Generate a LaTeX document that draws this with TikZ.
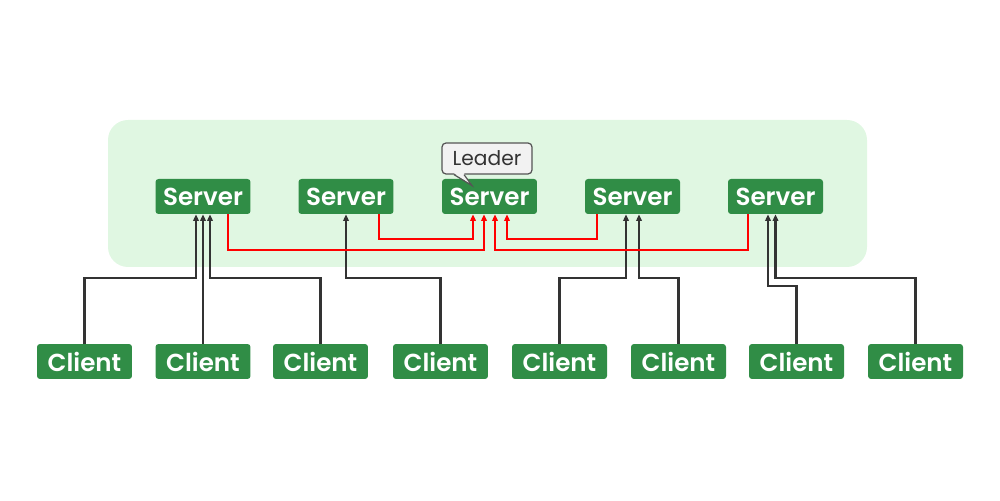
\documentclass[tikz,border=0pt]{standalone}
\usepackage{fontspec}
\setmainfont{Poppins}[BoldFont={Poppins SemiBold}]
\usetikzlibrary{arrows.meta}
\definecolor{gfg}{HTML}{308D46}
\definecolor{bggreen}{HTML}{E0F7E2}
\definecolor{dline}{HTML}{333333}
\definecolor{rline}{HTML}{FF0000}
\definecolor{lgray}{HTML}{F2F2F2}
\definecolor{lborder}{HTML}{555555}
\begin{document}
\begin{tikzpicture}[x=0.02cm,y=0.02cm,
  box/.style={rectangle, rounded corners=0.06cm, fill=gfg, text=white,
    minimum width=1.9cm, minimum height=0.7cm, inner sep=0pt,
    font=\fontsize{14pt}{15pt}\selectfont\bfseries},
  cl/.style={draw=dline, line width=1.3pt, -{Triangle[length=0.13cm,width=0.11cm]}},
  rl/.style={draw=rline, line width=1.3pt, -{Triangle[length=0.13cm,width=0.11cm]}},
  ldr/.style={draw=lborder, line width=0.7pt}]
\useasboundingbox (0,0) rectangle (1000,500);
\fill[bggreen, rounded corners=0.4cm] (108,233) rectangle (867,380);
% servers
\node[box] (s1) at (203,303.5) {Server};
\node[box] (s2) at (346,303.5) {Server};
\node[box] (s3) at (489.5,303.5) {Server};
\node[box] (s4) at (632.5,303.5) {Server};
\node[box] (s5) at (775.5,303.5) {Server};
% clients
\node[box] (c1) at (84.5,138.5) {Client};
\node[box] (c2) at (203,138.5) {Client};
\node[box] (c3) at (320.5,138.5) {Client};
\node[box] (c4) at (440.5,138.5) {Client};
\node[box] (c5) at (559.5,138.5) {Client};
\node[box] (c6) at (678.5,138.5) {Client};
\node[box] (c7) at (796.5,138.5) {Client};
\node[box] (c8) at (915.5,138.5) {Client};
% leader callout
\node[ldr, fill=lgray, rounded corners=0.08cm, minimum width=1.8cm, minimum height=0.62cm,
  inner sep=0pt, font=\fontsize{11.5pt}{12pt}\selectfont, text=dline] (ld) at (487,341.5) {Leader};
\fill[lgray] ([xshift=-0.66cm,yshift=0.03cm]ld.south) -- ([xshift=-0.3cm,yshift=-0.22cm]ld.south)
  -- ([xshift=-0.46cm,yshift=0.03cm]ld.south) -- cycle;
\draw[ldr] ([xshift=-0.66cm]ld.south) -- ([xshift=-0.3cm,yshift=-0.22cm]ld.south) -- ([xshift=-0.46cm]ld.south);
% client connectors
\draw[cl] (c1.north) -- ++(0,66) -| ([xshift=-0.14cm]s1.south);
\draw[cl] (c2.north) -- (s1.south);
\draw[cl] (c3.north) -- ++(0,66) -| ([xshift=0.14cm]s1.south);
\draw[cl] (c4.north) -- ++(0,66) -| (s2.south);
\draw[cl] (c5.north) -- ++(0,66) -| ([xshift=-0.13cm]s4.south);
\draw[cl] (c6.north) -- ++(0,66) -| ([xshift=0.13cm]s4.south);
\draw[cl] (c7.north) -- ++(0,58) -| ([xshift=-0.15cm]s5.south);
\draw[cl] (c8.north) -- ++(0,66) -| (s5.south);
% red connectors to leader
\draw[rl] ([xshift=0.5cm]s1.south) -- ++(0,-36) -| ([xshift=-0.11cm]s3.south);
\draw[rl] ([xshift=0.66cm]s2.south) -- ++(0,-25) -| ([xshift=-0.33cm]s3.south);
\draw[rl] ([xshift=-0.71cm]s4.south) -- ++(0,-25) -| ([xshift=0.35cm]s3.south);
\draw[rl] ([xshift=-0.55cm]s5.south) -- ++(0,-36) -| ([xshift=0.11cm]s3.south);
\end{tikzpicture}
\end{document}
